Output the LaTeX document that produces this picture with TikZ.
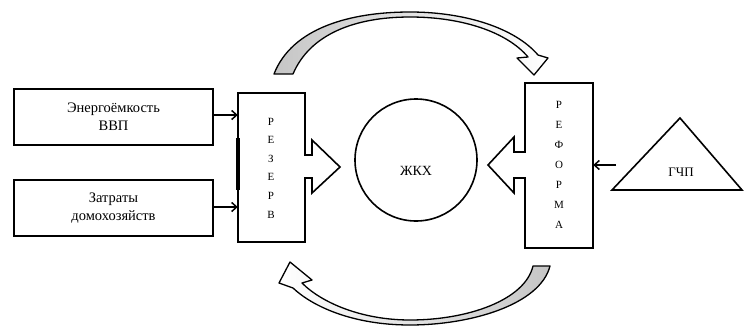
\documentclass[tikz,border=0pt]{standalone}
\usepackage{fontspec}
\setmainfont{Liberation Serif}
\usetikzlibrary{arrows.meta,shapes.geometric}
\begin{document}
\begin{tikzpicture}[x=1pt,y=-1pt,line join=miter,
  box/.style={draw,line width=1.6pt,minimum width=199pt,minimum height=56pt,align=center,font=\fontsize{14.5}{18}\selectfont,inner sep=0pt},
  con/.style={line width=1.5pt,-{Straight Barb[length=5pt,width=9pt,line width=1.5pt]}},
  blk/.style={draw,line width=1.6pt,fill=white},
  bendarrow/.style={draw,line width=1.3pt,line join=round},
  letters/.style={align=center,inner sep=0pt}]
\useasboundingbox (0,0) rectangle (744,327);
\fill[white] (0,0) rectangle (744,327);

% input boxes
\node[box] (energy) at (113.5,117) {Энергоёмкость\\ВВП};
\node[box] (costs) at (113.5,208) {Затраты\\домохозяйств};

% left notched arrow box (РЕЗЕРВ)
\node[minimum width=67pt,minimum height=149pt,inner sep=0pt] (rez) at (271.5,167.5) {};
\path[blk] (238,93) -- (305,93) -- (305,155) -- (312,155) -- (312,140) -- (340,167)
  -- (312,193) -- (312,178) -- (305,178) -- (305,242) -- (238,242) -- cycle;
\draw[line width=3.5pt] (238,138) -- (238,190);
\draw[line width=2.4pt] (238,93) -- (270,93);
\node[letters,font=\fontsize{11}{18.6}\selectfont] (rezt) at (271,168) {Р\\Е\\З\\Е\\Р\\В};

% right notched arrow box (РЕФОРМА)
\node[minimum width=68pt,minimum height=165pt,inner sep=0pt] (ref) at (559,165.5) {};
\path[blk] (525,83) -- (593,83) -- (593,248) -- (525,248) -- (525,178) -- (514,178)
  -- (514,193) -- (488,165) -- (514,137) -- (514,152) -- (525,152) -- cycle;
\node[letters,font=\fontsize{11}{20}\selectfont] (reft) at (559,165) {Р\\Е\\Ф\\О\\Р\\М\\А};

% centre circle
\node[draw,circle,line width=1.6pt,minimum size=122pt,inner sep=0pt] (zhkh) at (416,160) {};
\node[font=\fontsize{14}{16}\selectfont] (zhkht) at (416,171) {ЖКХ};

% triangle
\path[draw,line width=1.6pt] (612,190) -- (680,118) -- (742,190) -- cycle;
\node[font=\fontsize{13}{15}\selectfont] (gchp) at (681,172) {ГЧП};
\coordinate (tri) at (616,165);

% connectors
\draw[con] (energy.east |- 0,115) -- (rez.west |- 0,115);
\draw[con] (costs.east |- 0,207) -- (rez.west |- 0,207);
\draw[con] (tri) -- (ref.east |- tri);

% top curved block arrow
\path[bendarrow,left color=gray!45,middle color=white,right color=white]
  (274,74) .. controls (292,28) and (350,12) .. (410,12)
  .. controls (465,12) and (515,28) .. (538,55)
  -- (548,58) -- (534,75) -- (517,58) -- (528,57)
  .. controls (507,32) and (462,17) .. (410,17)
  .. controls (355,17) and (310,34) .. (293,74) -- cycle;

% bottom curved block arrow
\path[bendarrow,left color=white,middle color=white,right color=gray!45]
  (550,266) .. controls (540,305) and (470,325) .. (410,325)
  .. controls (352,325) and (312,306) .. (293,288)
  -- (279,283) -- (290,262) -- (312,280) -- (302,283)
  .. controls (322,303) and (362,320) .. (410,320)
  .. controls (468,320) and (525,300) .. (533,266) -- cycle;
\end{tikzpicture}
\end{document}
